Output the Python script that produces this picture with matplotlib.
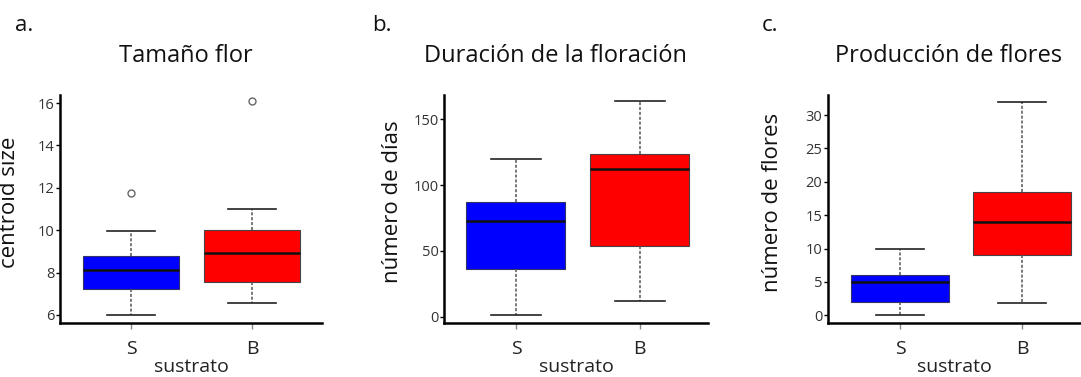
import matplotlib
matplotlib.use("Agg")
import matplotlib.pyplot as plt

plt.rcParams['font.family'] = ['Open Sans', 'DejaVu Sans']

# datos: (whisker bajo, Q1, mediana, Q3, whisker alto)
grupos = ["S", "B"]
colores = ["#0000ff", "#ff0000"]

tam_S = [6.0, 7.21, 8.12, 8.78, 9.98]
tam_B = [6.55, 7.54, 8.93, 10.01, 11.02]
tam_out_S = [11.75]
tam_out_B = [16.08]

dur_S = [1, 36, 72.5, 87, 120]
dur_B = [12, 54, 112, 123.6, 164]
dur_out_S = []
dur_out_B = []

flo_S = [0, 2, 5, 6, 10]
flo_B = [1.85, 9, 14, 18.5, 32]
flo_out_S = []
flo_out_B = []

titulos = ["Tamaño flor", "Duración de la floración", "Producción de flores"]
letras = ["a.", "b.", "c."]
ylabels = ["centroid size", "número de días", "número de flores"]
yticks = [[6, 8, 10, 12, 14, 16], [0, 50, 100, 150], [0, 5, 10, 15, 20, 25, 30]]
ylims = [(5.62, 16.38), (-4.8, 168.5), (-1.15, 33)]


def stats(q, out, nombre):
    return dict(whislo=q[0], q1=q[1], med=q[2], q3=q[3], whishi=q[4],
                fliers=out, label=nombre)


datos = [
    ([tam_S, tam_B], [tam_out_S, tam_out_B]),
    ([dur_S, dur_B], [dur_out_S, dur_out_B]),
    ([flo_S, flo_B], [flo_out_S, flo_out_B]),
]

fig = plt.figure(figsize=(10.81, 3.77), dpi=100)

# posiciones en pixeles (izq, der) de cada panel
W, H = 1081, 377
paneles = [(60, 322), (444, 708), (828, 1080)]
xlims = [(0.413, 2.58), (0.42, 2.55), (0.41, 2.475)]
tit_x = [185.5, 555, 948.5]
let_x = [15, 372, 762]
ylab_x = [-0.153, -0.155, -0.179]

for i in range(3):
    l, r = paneles[i]
    ax = fig.add_axes([l / W, 1 - 323 / H, (r - l) / W, (323 - 95) / H])
    qs, outs = datos[i]
    st = [stats(qs[k], outs[k], grupos[k]) for k in range(2)]
    bp = ax.bxp(st, positions=[1, 2], widths=0.8, patch_artist=True,
                showfliers=True, capwidths=0.4,
                whiskerprops=dict(color="#555555", lw=1.1, linestyle=(0, (2, 1.2))),
                capprops=dict(color="#222222", lw=1.2),
                medianprops=dict(color="#111111", lw=1.8),
                flierprops=dict(marker="o", markerfacecolor="white",
                                markeredgecolor="#666666", markersize=5,
                                markeredgewidth=1))
    for k, box in enumerate(bp["boxes"]):
        box.set_facecolor(colores[k])
        box.set_edgecolor("#333366" if k == 0 else "#444444")
        box.set_linewidth(0.8)

    ax.set_xlim(*xlims[i])
    ax.set_ylim(*ylims[i])
    ax.set_yticks(yticks[i])
    for s in ["top", "right"]:
        ax.spines[s].set_visible(False)
    for s in ["left", "bottom"]:
        ax.spines[s].set_linewidth(1.8)
        ax.spines[s].set_color("black")
    ax.tick_params(axis="y", length=3, width=1, labelsize=10.5,
                   labelcolor="#333333", pad=1)
    ax.tick_params(axis="x", length=4, width=1, color="#888888",
                   labelsize=14, labelcolor="#222222", pad=8)
    ax.set_xlabel("sustrato", fontsize=14, color="#222222", labelpad=0)
    ax.set_ylabel(ylabels[i], fontsize=16, color="#111111")
    ax.yaxis.set_label_coords(ylab_x[i], 0.53)

    fig.text(tit_x[i] / W, 1 - 62 / H, titulos[i], fontsize=17,
             ha="center", va="baseline", color="#111111")
    fig.text(let_x[i] / W, 1 - 31 / H, letras[i], fontsize=16,
             ha="left", va="baseline", color="#111111")

fig.savefig("out.png", dpi=100, facecolor="white")
